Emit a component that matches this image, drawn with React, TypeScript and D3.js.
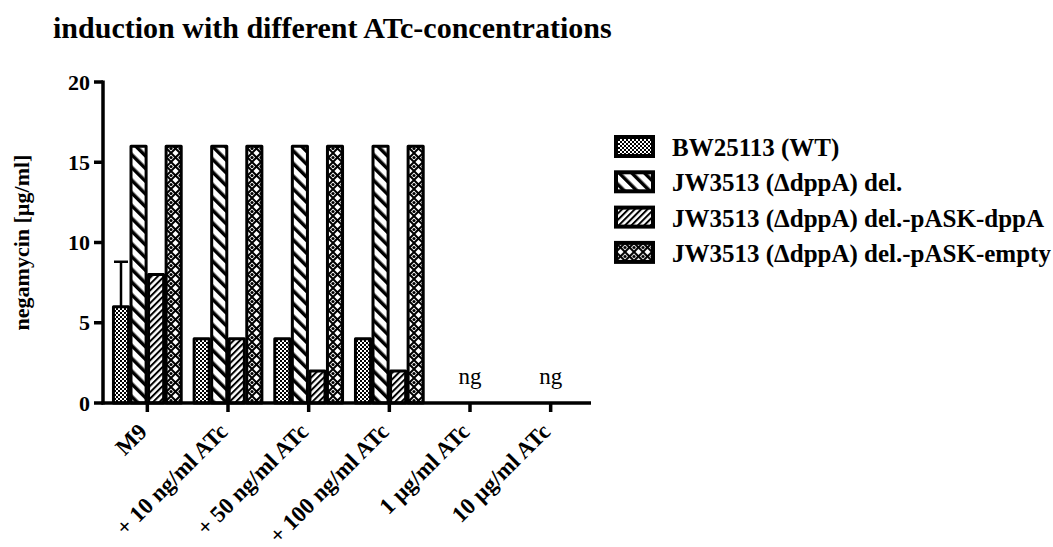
import React from "react";
import * as d3 from "d3";

const categories = ["M9", "+ 10 ng/ml ATc", "+ 50 ng/ml ATc", "+ 100 ng/ml ATc", "1 µg/ml ATc", "10 µg/ml ATc"];
const seriesNames = ["BW25113 (WT)", "JW3513 (ΔdppA) del.", "JW3513 (ΔdppA) del.-pASK-dppA", "JW3513 (ΔdppA) del.-pASK-empty"];
const wt: (number | null)[] = [6, 4, 4, 4, null, null];
const del: (number | null)[] = [16, 16, 16, 16, null, null];
const delDppA: (number | null)[] = [8, 4, 2, 2, null, null];
const delEmpty: (number | null)[] = [16, 16, 16, 16, null, null];
const wtErr: (number | null)[] = [2.8, 0, 0, 0, null, null];
const yTicks = [0, 5, 10, 15, 20];
const seriesValues = [wt, del, delDppA, delEmpty];
const patternIds = ["pWT", "pDel", "pDppA", "pEmpty"];

const FONT = "'Liberation Serif', 'Times New Roman', serif";

export default function App() {
  const x0 = d3.scaleBand<string>().domain(categories).range([107, 591]).paddingInner(0.16).paddingOuter(0.08);
  const x1 = d3.scaleBand<number>().domain([0, 1, 2, 3]).range([0, x0.bandwidth()]).paddingInner(0.14);
  const y = d3.scaleLinear().domain([0, 20]).range([403, 82]);
  const xAxisStart = 103;
  const xAxisEnd = 591;

  return (
    <svg width={1053} height={547} style={{ position: "absolute", left: 0, top: 0, background: "#fff" }}>
      <defs>
        <pattern id="pWT" width={4} height={4} patternUnits="userSpaceOnUse">
          <rect width={4} height={4} fill="#fff" />
          <rect x={0} y={0} width={2} height={2} fill="#000" />
          <rect x={2} y={2} width={2} height={2} fill="#000" />
        </pattern>
        <pattern id="pDel" width={9} height={9} patternUnits="userSpaceOnUse" patternTransform="rotate(-45)">
          <rect width={9} height={9} fill="#fff" />
          <rect x={0} y={0} width={3.5} height={9} fill="#000" />
        </pattern>
        <pattern id="pDppA" width={4.5} height={4.5} patternUnits="userSpaceOnUse" patternTransform="rotate(45)">
          <rect width={4.5} height={4.5} fill="#fff" />
          <rect x={0} y={0} width={2} height={4.5} fill="#000" />
        </pattern>
        <pattern id="pEmpty" width={9} height={9} patternUnits="userSpaceOnUse">
          <rect width={9} height={9} fill="#fff" />
          <path d="M0,0 L9,9 M9,0 L0,9" stroke="#000" strokeWidth={2} />
          <circle cx={0} cy={4.5} r={1.6} fill="#000" />
          <circle cx={9} cy={4.5} r={1.6} fill="#000" />
        </pattern>
      </defs>

      <text x={53} y={38} fontFamily={FONT} fontWeight="bold" fontSize={30}>induction with different ATc-concentrations</text>

      <text transform={`translate(29,${(y(0) + y(20)) / 2}) rotate(-90)`} textAnchor="middle" fontFamily={FONT} fontWeight="bold" fontSize={22}>negamycin [µg/ml]</text>

      {/* bars */}
      {categories.map((c, ci) => (
        <g key={c}>
          {seriesValues.map((vals, si) => {
            const v = vals[ci];
            if (v == null) return null;
            const bx = (x0(c) as number) + (x1(si) as number);
            const bw = x1.bandwidth();
            return (
              <rect key={si} x={bx} y={y(v)} width={bw} height={y(0) - y(v)} fill={`url(#${patternIds[si]})`} stroke="#000" strokeWidth={3} strokeLinejoin="round" />
            );
          })}
          {wtErr[ci] != null && (wtErr[ci] as number) > 0 && (() => {
            const cx = (x0(c) as number) + (x1(0) as number) + x1.bandwidth() / 2;
            const top = y((wt[ci] as number) + (wtErr[ci] as number));
            return (
              <g>
                <line x1={cx} x2={cx} y1={y(wt[ci] as number)} y2={top} stroke="#000" strokeWidth={2.5} />
                <line x1={cx - 7} x2={cx + 7} y1={top} y2={top} stroke="#000" strokeWidth={2.5} />
              </g>
            );
          })()}
          {seriesValues.every((vals) => vals[ci] == null) && (
            <text x={(x0(c) as number) + x0.bandwidth() / 2} y={384} textAnchor="middle" fontFamily={FONT} fontSize={23}>ng</text>
          )}
        </g>
      ))}

      {/* y axis */}
      <line x1={xAxisStart} x2={xAxisStart} y1={y(20) - 1.5} y2={y(0) + 1.5} stroke="#000" strokeWidth={3.5} />
      {yTicks.map((t) => (
        <g key={t}>
          <line x1={xAxisStart - 9} x2={xAxisStart} y1={y(t)} y2={y(t)} stroke="#000" strokeWidth={3.5} />
          <text x={xAxisStart - 13} y={y(t)} dy="0.35em" textAnchor="end" fontFamily={FONT} fontWeight="bold" fontSize={22}>{t}</text>
        </g>
      ))}

      {/* x axis */}
      <line x1={xAxisStart - 1.5} x2={xAxisEnd} y1={y(0)} y2={y(0)} stroke="#000" strokeWidth={3.5} />
      {categories.map((c) => {
        const cx = (x0(c) as number) + x0.bandwidth() / 2;
        return (
          <g key={c}>
            <line x1={cx} x2={cx} y1={y(0)} y2={y(0) + 9} stroke="#000" strokeWidth={3.5} />
            <text transform={`translate(${cx + 1},${y(0) + 30}) rotate(-45)`} textAnchor="end" fontFamily={FONT} fontWeight="bold" fontSize={23}>{c}</text>
          </g>
        );
      })}

      {/* legend */}
      {seriesNames.map((n, i) => (
        <g key={n} transform={`translate(616,${137 + i * 35.3})`}>
          <rect x={0} y={0} width={37} height={19} fill={`url(#${patternIds[i]})`} stroke="#000" strokeWidth={4} />
          <text x={56} y={19} fontFamily={FONT} fontWeight="bold" fontSize={25}>{n}</text>
        </g>
      ))}
    </svg>
  );
}
